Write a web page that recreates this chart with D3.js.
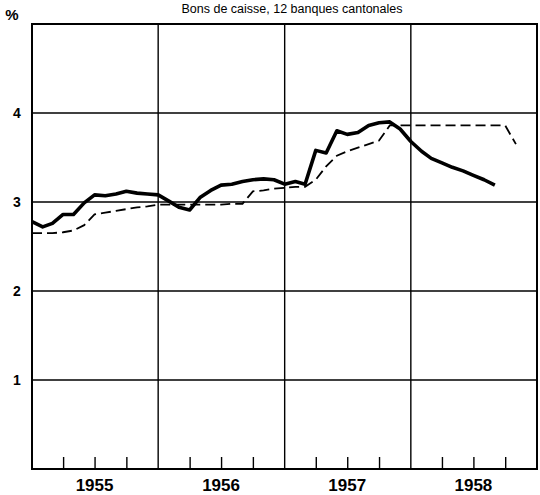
<!DOCTYPE html>
<html>
<head>
<meta charset="utf-8">
<script src="https://cdn.jsdelivr.net/npm/d3@7"></script>
<style>
  body { margin: 0; background: #fff; }
  svg { display: block; font-family: "Liberation Sans", Arial, sans-serif; }
</style>
</head>
<body>
<div id="chart"></div>
<script>
// monthly series, starting Jan 1955
var startMonth = "1955-01";
var solidValues = [
  2.78, 2.72, 2.76, 2.86, 2.86, 2.99, 3.08, 3.07, 3.09, 3.12, 3.10, 3.09,   // 1955
  3.08, 3.01, 2.94, 2.91, 3.05, 3.13, 3.19, 3.20, 3.23, 3.25, 3.26, 3.25,   // 1956
  3.20, 3.23, 3.20, 3.58, 3.55, 3.80, 3.76, 3.78, 3.86, 3.89, 3.90, 3.82,   // 1957
  3.68, 3.57, 3.49, 3.44, 3.39, 3.35, 3.30, 3.25, 3.19                      // 1958
];
var dashedValues = [
  2.65, 2.65, 2.65, 2.66, 2.68, 2.74, 2.86, 2.88, 2.90, 2.92, 2.94, 2.95,   // 1955
  2.97, 2.97, 2.97, 2.97, 2.97, 2.97, 2.97, 2.98, 2.98, 3.12, 3.13, 3.15,   // 1956
  3.16, 3.17, 3.17, 3.25, 3.40, 3.52, 3.57, 3.61, 3.65, 3.69, 3.86, 3.86,   // 1957
  3.86, 3.86, 3.86, 3.86, 3.86, 3.86, 3.86, 3.86, 3.86, 3.86, 3.65          // 1958
];
var years = [1955, 1956, 1957, 1958];
var yTicks = [1, 2, 3, 4];
var title = "Bons de caisse, 12 banques cantonales";

var width = 540, height = 495;
var margin = {left: 32, right: 3, top: 24, bottom: 26};

var parseMonth = d3.timeParse("%Y-%m");
var t0 = parseMonth(startMonth);
function monthDate(i) { return d3.timeMonth.offset(t0, i); }

var x = d3.scaleTime()
          .domain([new Date(1955, 0, 1), new Date(1959, 0, 1)])
          .range([margin.left, width - margin.right]);
var y = d3.scaleLinear()
          .domain([0, 5])
          .range([height - margin.bottom, margin.top]);

var svg = d3.select("#chart").append("svg")
            .attr("width", width)
            .attr("height", height);

// horizontal grid
svg.append("g")
   .selectAll("line")
   .data(yTicks)
   .enter().append("line")
   .attr("x1", x.range()[0]).attr("x2", x.range()[1])
   .attr("y1", function(d) { return y(d); })
   .attr("y2", function(d) { return y(d); })
   .attr("stroke", "#000").attr("stroke-width", 1.4);

// year boundaries
svg.append("g")
   .selectAll("line")
   .data(years.slice(1))
   .enter().append("line")
   .attr("x1", function(d) { return x(new Date(d, 0, 1)); })
   .attr("x2", function(d) { return x(new Date(d, 0, 1)); })
   .attr("y1", y(0)).attr("y2", y(5))
   .attr("stroke", "#000").attr("stroke-width", 1.4);

// quarter ticks along the bottom
var quarters = d3.timeMonth.every(3).range(new Date(1955, 0, 1), new Date(1959, 0, 1))
                 .filter(function(d) { return d.getMonth() != 0; });
var xAxis = d3.axisBottom(x).tickValues(quarters).tickSize(-12).tickFormat("");
svg.append("g")
   .attr("transform", "translate(0," + y(0) + ")")
   .call(xAxis)
   .call(function(g) {
     g.select(".domain").remove();
     g.selectAll("line").attr("stroke-width", 1.4);
   });

// frame
svg.append("rect")
   .attr("x", x.range()[0]).attr("y", y(5))
   .attr("width", x.range()[1] - x.range()[0])
   .attr("height", y(0) - y(5))
   .attr("fill", "none").attr("stroke", "#000").attr("stroke-width", 2);

// y labels
svg.append("g")
   .selectAll("text")
   .data(yTicks)
   .enter().append("text")
   .attr("x", 17).attr("y", function(d) { return y(d); })
   .attr("dy", "0.36em")
   .attr("text-anchor", "middle")
   .attr("font-size", 14).attr("font-weight", "bold")
   .text(function(d) { return d; });

// year labels
svg.append("g")
   .selectAll("text")
   .data(years)
   .enter().append("text")
   .attr("x", function(d) { return x(new Date(d, 6, 1)); })
   .attr("y", 491)
   .attr("text-anchor", "middle")
   .attr("font-size", 17).attr("font-weight", "bold")
   .text(function(d) { return d; });

svg.append("text")
   .attr("x", 12).attr("y", 20)
   .attr("text-anchor", "middle")
   .attr("font-size", 15).attr("font-weight", "bold")
   .text("%");

svg.append("text")
   .attr("x", 292).attr("y", 13)
   .attr("text-anchor", "middle")
   .attr("font-size", 12.5)
   .text(title);

var line = d3.line()
             .x(function(d, i) { return x(monthDate(i)); })
             .y(function(d) { return y(d); });

svg.append("path")
   .datum(dashedValues)
   .attr("d", line)
   .attr("fill", "none").attr("stroke", "#000")
   .attr("stroke-width", 1.8)
   .attr("stroke-dasharray", "10,5");

svg.append("path")
   .datum(solidValues)
   .attr("d", line)
   .attr("fill", "none").attr("stroke", "#000")
   .attr("stroke-width", 3.6)
   .attr("stroke-linejoin", "round");
</script>
</body>
</html>
